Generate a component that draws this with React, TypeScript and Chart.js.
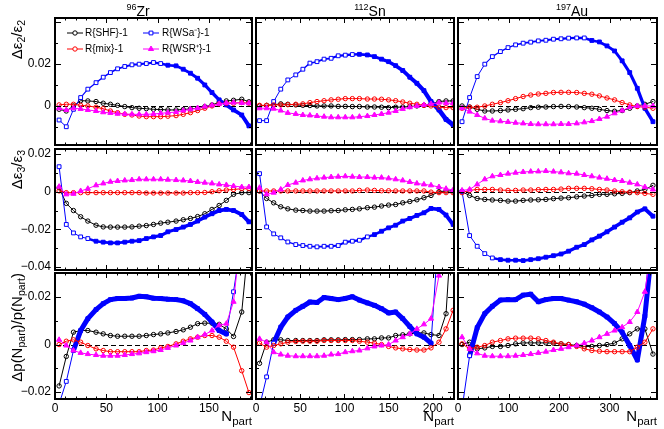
import { useEffect, useRef } from "react"
import { Chart, registerables } from "chart.js"

Chart.register(...registerables)

const FONT = '"Liberation Sans", Arial, Helvetica, sans-serif'

// N_part bin centres of each collision system
const nPartZr = [4, 11, 18, 25, 32, 40, 47, 54, 61, 68, 75, 82, 89, 96, 103, 110, 118, 125, 132, 139, 146, 153, 160, 167, 174, 182, 189]
const nPartSn = [4, 12, 20, 28, 36, 45, 53, 61, 69, 77, 85, 93, 101, 109, 117, 126, 134, 142, 150, 158, 166, 174, 182, 190, 198, 207, 215, 223]
const nPartAu = [8, 23, 38, 53, 68, 84, 99, 114, 129, 144, 159, 174, 189, 204, 219, 235, 250, 265, 280, 295, 310, 325, 340, 355, 370, 386]

// top row: Δε2/ε2
const e2ZrSHF = [-0.0016, -0.0024, 0.0, 0.0025, 0.0024, 0.0021, 0.0013, 0.0008, 0.0003, -0.0003, -0.0008, -0.0011, -0.0013, -0.0016, -0.0017, -0.0019, -0.0019, -0.0017, -0.0014, -0.0011, -0.0003, 0.0005, 0.0017, 0.0024, 0.0027, 0.0032, 0.002]
const e2ZrWSa = [-0.0067, -0.0099, -0.0016, 0.004, 0.008, 0.0111, 0.0137, 0.0159, 0.0177, 0.0188, 0.0196, 0.0199, 0.0202, 0.0207, 0.0202, 0.0194, 0.0191, 0.0175, 0.0156, 0.0132, 0.01, 0.0064, 0.0029, 0.0005, -0.0019, -0.0043, -0.0095]
const e2ZrMix = [0.0005, 0.0008, 0.0008, 0.0003, 0.0, -0.0006, -0.0013, -0.0024, -0.0032, -0.004, -0.0043, -0.0048, -0.0051, -0.0051, -0.0051, -0.0049, -0.0046, -0.004, -0.0032, -0.0022, -0.0011, 0.0, 0.001, 0.0013, 0.0013, 0.0016, 0.0013]
const e2ZrWSR = [-0.0011, -0.0019, -0.0011, -0.0014, -0.0019, -0.0024, -0.003, -0.0033, -0.0037, -0.0038, -0.004, -0.004, -0.004, -0.0038, -0.0035, -0.0032, -0.0029, -0.0022, -0.0016, -0.001, -0.0003, 0.0003, 0.001, 0.0014, 0.0016, 0.0014, 0.0013]

const e2SnSHF = [0.0, 0.0003, 0.0006, 0.001, 0.0008, 0.0005, 0.0003, 0.0002, 0.0, 0.0, 0.0, -0.0002, -0.0002, -0.0003, -0.0003, -0.0005, -0.0005, -0.0006, -0.0008, -0.0006, -0.0005, -0.0003, 0.0, 0.0003, 0.001, 0.0021, 0.0024, 0.0024]
const e2SnWSa = [-0.007, -0.007, 0.0021, 0.008, 0.0124, 0.0148, 0.0175, 0.0204, 0.0211, 0.0223, 0.0227, 0.0239, 0.0242, 0.0245, 0.0246, 0.0243, 0.0235, 0.0223, 0.0211, 0.0192, 0.0169, 0.0137, 0.0108, 0.0073, 0.0021, -0.0019, -0.0064, -0.009]
const e2SnMix = [0.0003, 0.0003, 0.0005, 0.0005, 0.0006, 0.0008, 0.001, 0.0016, 0.0021, 0.0025, 0.0029, 0.0032, 0.0035, 0.0035, 0.0035, 0.0033, 0.0033, 0.0032, 0.0029, 0.0025, 0.0019, 0.0013, 0.0008, 0.0003, 0.0, -0.0006, -0.0008, -0.0008]
const e2SnWSR = [-0.0011, -0.0011, -0.0013, -0.0022, -0.0033, -0.0038, -0.0043, -0.0045, -0.0048, -0.0051, -0.0054, -0.0054, -0.0054, -0.0054, -0.0051, -0.0048, -0.0043, -0.0038, -0.0032, -0.0024, -0.0014, -0.0006, 0.0, 0.0005, 0.001, 0.0016, 0.0013, 0.0013]

const e2AuSHF = [0.0, -0.0005, -0.0016, -0.0024, -0.0024, -0.0022, -0.0019, -0.0016, -0.0013, -0.0008, -0.0006, -0.0005, -0.0003, -0.0002, -0.0003, -0.0005, -0.0008, -0.0011, -0.0016, -0.0022, -0.0025, -0.0022, -0.0011, 0.0, 0.0008, 0.0021]
const e2AuWSa = [-0.0075, 0.004, 0.014, 0.0199, 0.0235, 0.0259, 0.0278, 0.0291, 0.0299, 0.0304, 0.031, 0.0313, 0.0318, 0.032, 0.0323, 0.0324, 0.0324, 0.0312, 0.0305, 0.0286, 0.0262, 0.0215, 0.0159, 0.0084, -0.0011, -0.0075]
const e2AuMix = [-0.0011, -0.0006, -0.0006, 0.0, 0.0008, 0.0016, 0.0025, 0.0035, 0.0045, 0.0052, 0.0057, 0.006, 0.0064, 0.0065, 0.0065, 0.0064, 0.006, 0.0056, 0.0048, 0.0038, 0.0029, 0.0016, 0.0005, -0.0003, -0.0006, -0.0011]
const e2AuWSR = [-0.0011, -0.0027, -0.0043, -0.0059, -0.007, -0.0073, -0.0076, -0.008, -0.0083, -0.0086, -0.0087, -0.0087, -0.0087, -0.0086, -0.0086, -0.0083, -0.0078, -0.0072, -0.0062, -0.0051, -0.0035, -0.0022, -0.0006, 0.0, 0.0, 0.0]

// middle row: Δε3/ε3
const e3ZrSHF = [0.0021, -0.0062, -0.01, -0.0133, -0.0156, -0.0178, -0.0187, -0.0188, -0.0188, -0.0188, -0.0187, -0.0183, -0.018, -0.0174, -0.0167, -0.0162, -0.0156, -0.0149, -0.0142, -0.0132, -0.0117, -0.0094, -0.0073, -0.0046, -0.0014, -0.0005, -0.0005]
const e3ZrWSa = [0.0133, -0.0174, -0.0219, -0.024, -0.0249, -0.0263, -0.0268, -0.0272, -0.0272, -0.0268, -0.0263, -0.026, -0.0249, -0.024, -0.0233, -0.0213, -0.0201, -0.0188, -0.0174, -0.0156, -0.0135, -0.0117, -0.01, -0.0094, -0.01, -0.0121, -0.016]
const e3ZrMix = [0.0004, -0.0005, -0.0005, -0.0005, -0.0005, -0.0005, -0.0005, -0.0005, -0.0005, -0.0005, -0.0005, -0.0005, -0.0007, -0.0007, -0.0007, -0.0007, -0.0007, -0.0007, -0.0005, -0.0005, -0.0004, 0.0, 0.0005, 0.0009, 0.0012, 0.0016, 0.0016]
const e3ZrWSR = [0.0027, -0.0014, -0.0011, 0.0004, 0.0016, 0.0034, 0.0044, 0.0053, 0.0057, 0.006, 0.0062, 0.0066, 0.0066, 0.0066, 0.0066, 0.0064, 0.0062, 0.006, 0.0057, 0.0052, 0.0048, 0.0044, 0.0039, 0.0036, 0.003, 0.0025, 0.0025]

const e3SnSHF = [0.0004, -0.0036, -0.0059, -0.008, -0.0091, -0.0098, -0.01, -0.0103, -0.0103, -0.0103, -0.0101, -0.01, -0.0096, -0.0094, -0.0091, -0.0085, -0.0082, -0.0076, -0.0071, -0.0068, -0.0059, -0.0052, -0.0043, -0.0032, -0.002, 0.0, 0.0004, 0.0004]
const e3SnWSa = [0.0096, -0.0187, -0.0224, -0.0245, -0.0267, -0.0281, -0.0286, -0.029, -0.0293, -0.029, -0.029, -0.0286, -0.0268, -0.0263, -0.0258, -0.024, -0.0228, -0.021, -0.0192, -0.0178, -0.0156, -0.0142, -0.0126, -0.0112, -0.0089, -0.0094, -0.0124, -0.0174]
const e3SnMix = [0.0004, 0.0004, 0.0004, 0.0004, 0.0004, 0.0004, 0.0004, 0.0004, 0.0004, 0.0004, 0.0004, 0.0004, 0.0004, 0.0004, 0.0007, 0.0009, 0.0007, 0.0005, 0.0005, 0.0004, 0.0004, 0.0004, 0.0004, 0.0004, -0.0002, -0.0005, -0.0005, -0.0005]
const e3SnWSR = [0.0021, -0.0014, -0.0005, 0.0012, 0.0036, 0.0048, 0.006, 0.0066, 0.0071, 0.0075, 0.0078, 0.008, 0.0082, 0.008, 0.0078, 0.0078, 0.0075, 0.0075, 0.0071, 0.0066, 0.006, 0.0052, 0.0044, 0.0039, 0.0034, 0.0025, 0.0016, 0.0009]

const e3AuSHF = [0.0, -0.002, -0.0036, -0.0041, -0.0044, -0.0046, -0.005, -0.005, -0.0046, -0.0044, -0.0043, -0.0041, -0.0037, -0.0034, -0.0032, -0.0027, -0.0023, -0.002, -0.0014, -0.0014, -0.0011, -0.0009, -0.0005, 0.0004, 0.0012, 0.0034]
const e3AuWSa = [0.0, -0.0233, -0.029, -0.0329, -0.0352, -0.0361, -0.0364, -0.0364, -0.0366, -0.0361, -0.0356, -0.0348, -0.034, -0.0331, -0.0316, -0.0295, -0.0281, -0.0256, -0.0236, -0.0213, -0.0188, -0.0162, -0.0139, -0.0108, -0.0091, -0.013]
const e3AuMix = [-0.0005, 0.0007, 0.0012, 0.0012, 0.0012, 0.0009, 0.0007, 0.0007, 0.0009, 0.0009, 0.0011, 0.0012, 0.0012, 0.0014, 0.0018, 0.0018, 0.0018, 0.0016, 0.0012, 0.0009, 0.0004, 0.0, -0.0002, -0.0005, -0.0009, -0.0014]
const e3AuWSR = [0.0007, 0.0012, 0.0039, 0.0066, 0.0082, 0.0089, 0.0096, 0.0101, 0.0105, 0.0107, 0.0108, 0.011, 0.0107, 0.0103, 0.0098, 0.0096, 0.0089, 0.0082, 0.0075, 0.0069, 0.0062, 0.0057, 0.0048, 0.0039, 0.0025, 0.0012]

// bottom row: Δp(Npart)/p(Npart)
const dpZrSHF = [-0.0174, -0.005, 0.0052, 0.0059, 0.0059, 0.0052, 0.0045, 0.0038, 0.0035, 0.0035, 0.0035, 0.0035, 0.0038, 0.0042, 0.0045, 0.0049, 0.0055, 0.0062, 0.0073, 0.0088, 0.009, 0.009, 0.0085, 0.0066, 0.0034, 0.0137, 0.045]
const dpZrWSa = [-0.025, -0.0155, -0.0025, 0.0059, 0.0109, 0.0147, 0.0172, 0.0189, 0.0194, 0.0194, 0.0196, 0.0203, 0.0201, 0.0195, 0.0194, 0.0191, 0.0189, 0.0184, 0.0172, 0.0151, 0.0127, 0.0095, 0.0059, 0.0045, 0.0222, 0.045, 0.07]
const dpZrMix = [0.0, 0.0014, 0.002, 0.001, -0.0004, -0.0018, -0.0025, -0.003, -0.003, -0.003, -0.003, -0.003, -0.0025, -0.0023, -0.0014, -0.0008, 0.0003, 0.0014, 0.0024, 0.0031, 0.0038, 0.0038, 0.0031, 0.0014, -0.0011, -0.011, -0.0202]
const dpZrWSR = [0.002, -0.0004, -0.0025, -0.0035, -0.004, -0.0044, -0.0047, -0.0047, -0.0047, -0.0044, -0.004, -0.0037, -0.0032, -0.0028, -0.0023, -0.0014, -0.0004, 0.0006, 0.0017, 0.0031, 0.0042, 0.0059, 0.0081, 0.0088, 0.018, 0.05, 0.08]

const dpSnSHF = [-0.0079, 0.001, 0.002, 0.002, 0.0017, 0.0017, 0.0017, 0.0017, 0.0017, 0.002, 0.002, 0.002, 0.0021, 0.0021, 0.0021, 0.0024, 0.0024, 0.0028, 0.0028, 0.0038, 0.0041, 0.0045, 0.0049, 0.0049, 0.0042, 0.0038, 0.013, 0.06]
const dpSnWSa = [-0.026, -0.0136, 0.0006, 0.0073, 0.0116, 0.0144, 0.0161, 0.0179, 0.0177, 0.0198, 0.0194, 0.0189, 0.0194, 0.0201, 0.0187, 0.0175, 0.0165, 0.0151, 0.0133, 0.0137, 0.0109, 0.0076, 0.0045, 0.0031, 0.0006, 0.05, 0.08, 0.1]
const dpSnMix = [0.0006, -0.0011, -0.0004, 0.0003, 0.001, 0.0013, 0.0014, 0.0014, 0.0014, 0.0017, 0.0017, 0.0017, 0.0017, 0.0017, 0.0014, 0.001, 0.0006, 0.0, -0.0008, -0.0014, -0.0018, -0.0021, -0.0023, -0.0023, -0.0014, 0.001, 0.0066, 0.0144]
const dpSnWSR = [0.0024, 0.001, -0.0032, -0.0042, -0.0047, -0.0049, -0.0049, -0.0049, -0.0049, -0.0047, -0.0042, -0.004, -0.0032, -0.0028, -0.0025, -0.0016, -0.0008, -0.0004, 0.0, 0.0017, 0.0031, 0.0045, 0.0066, 0.0085, 0.0109, 0.029, 0.06, 0.1]

const dpAuSHF = [0.0, 0.001, -0.0018, -0.0014, -0.0008, -0.0008, -0.0004, 0.0003, 0.0007, 0.0007, 0.0007, 0.0007, 0.0006, 0.0003, 0.0, -0.0004, -0.0008, -0.0008, -0.0004, 0.0, 0.0006, 0.0024, 0.0045, 0.0066, 0.0066, -0.004]
const dpAuWSa = [-0.027, -0.0047, 0.0071, 0.013, 0.0161, 0.0187, 0.0189, 0.0189, 0.0208, 0.0212, 0.018, 0.0189, 0.0194, 0.0194, 0.0187, 0.018, 0.017, 0.0155, 0.0137, 0.0116, 0.0088, 0.0052, -0.0004, -0.0065, 0.012, 0.045]
const dpAuMix = [0.0003, -0.0018, -0.0011, -0.0004, 0.001, 0.0017, 0.0024, 0.0027, 0.0027, 0.0027, 0.0024, 0.0017, 0.001, 0.0003, 0.0, -0.0008, -0.0018, -0.0025, -0.0028, -0.003, -0.003, -0.003, -0.003, -0.0011, 0.001, 0.0066]
const dpAuWSR = [0.0031, -0.0018, -0.0037, -0.0047, -0.0049, -0.0049, -0.0049, -0.0047, -0.0044, -0.004, -0.0035, -0.003, -0.0023, -0.0018, -0.0011, -0.0004, 0.0006, 0.0017, 0.0031, 0.0045, 0.0059, 0.0073, 0.0095, 0.0137, 0.0222, 0.045]

const seriesNames = ["R{SHF}-1", "R{WSa\u207B}-1", "R{mix}-1", "R{WSR\u207A}-1"]
const nPart = [nPartZr, nPartSn, nPartAu]
const panelData = [
  [[e2ZrSHF, e2ZrWSa, e2ZrMix, e2ZrWSR], [e2SnSHF, e2SnWSa, e2SnMix, e2SnWSR], [e2AuSHF, e2AuWSa, e2AuMix, e2AuWSR]],
  [[e3ZrSHF, e3ZrWSa, e3ZrMix, e3ZrWSR], [e3SnSHF, e3SnWSa, e3SnMix, e3SnWSR], [e3AuSHF, e3AuWSa, e3AuMix, e3AuWSR]],
  [[dpZrSHF, dpZrWSa, dpZrMix, dpZrWSR], [dpSnSHF, dpSnWSa, dpSnMix, dpSnWSR], [dpAuSHF, dpAuWSa, dpAuMix, dpAuWSR]],
]

// axes
const xMax = [192, 224, 394]
const xLabels = [[0, 50, 100, 150], [0, 50, 100, 150, 200], [0, 100, 200, 300]]
const xMinor = [10, 10, 20]
const yMin = [-0.0186, -0.0416, -0.0229]
const yMax = [0.0419, 0.0227, 0.0301]
const yLabels = [[0, 0.02], [-0.04, -0.02, 0, 0.02], [-0.02, 0, 0.02]]
const yMinor = 0.01

// layout of the 3x3 grid (page pixels)
const PAD = 8
const colL = [55, 256, 458]
const colR = [252, 454, 657]
const rowT = [18, 149, 273]
const rowB = [145, 270, 399]

const colors = ["#000000", "#0000ff", "#ff0000", "#ff00ff"]
const markers = ["circle", "rect", "circle", "triangle"]
const drawOrder = [3, 2, 1, 0] // first is drawn on top
// width ramp of the blue band: [w0, w1, first segment, end segment]
const blueBand = [
  [[1, 4, 2, 26], [1, 5, 4, 27], [1, 3.5, 2, 25]],
  [[2.5, 4, 4, 26], [1, 4, 2, 27], [2.5, 4, 4, 25]],
  [[5, 5, 2, 23], [5, 5, 2, 24], [5, 5, 1, 25]],
]

const fmtTick = (v: number) => (v === 0 ? "0" : (v < 0 ? "\u2212" : "") + Math.abs(v).toString())

function drawMarker(ctx: CanvasRenderingContext2D, k: number, x: number, y: number) {
  ctx.beginPath()
  if (markers[k] === "circle") ctx.arc(x, y, 2.2, 0, Math.PI * 2)
  else if (markers[k] === "rect") ctx.rect(x - 1.9, y - 1.9, 3.8, 3.8)
  else {
    ctx.moveTo(x, y - 3)
    ctx.lineTo(x + 2.6, y + 1.5)
    ctx.lineTo(x - 2.6, y + 1.5)
    ctx.closePath()
  }
  ctx.fillStyle = k === 3 ? colors[3] : "#ffffff"
  ctx.fill()
  ctx.strokeStyle = colors[k]
  ctx.lineWidth = 1
  ctx.stroke()
}

function Panel({ r, c }: { r: number; c: number }) {
  const canvasRef = useRef<HTMLCanvasElement>(null)
  const left = c === 0 ? 0 : colL[c] - PAD
  const top = rowT[r] - PAD
  const width = colR[c] + PAD - left
  const height = (r === 2 ? 429 : rowB[r] + PAD) - top

  useEffect(() => {
    if (!canvasRef.current) return
    const xs = nPart[c]
    const series = panelData[r][c]
    const [w0, w1, s0, s1] = blueBand[r][c]
    const segW = (i: number) => (i < s0 || i >= s1 ? 1 : w0 + ((w1 - w0) * (i - s0)) / Math.max(1, s1 - s0))

    const datasets: any[] = drawOrder.map((k) => ({
      label: seriesNames[k],
      data: xs.map((x, i) => ({ x, y: series[k][i] })),
      borderColor: colors[k],
      borderWidth: 1,
      borderJoinStyle: "round",
      borderCapStyle: "round",
      pointStyle: markers[k],
      pointRadius: k === 1 ? 2.7 : k === 3 ? 3 : 2.2,
      pointBorderWidth: 1,
      pointBorderColor: colors[k],
      pointBackgroundColor:
        k === 1 ? xs.map((_, i) => (i > 0 && segW(i - 1) >= 2.5 ? colors[1] : "#ffffff")) : k === 3 ? colors[3] : "rgba(0,0,0,0)",
      segment: k === 1 ? { borderWidth: (ctx: any) => segW(ctx.p0DataIndex) } : undefined,
      tension: 0,
    }))

    const framePlugin = {
      id: "rootFrame",
      beforeDatasetsDraw(chart: any) {
        const { ctx, chartArea: a } = chart
        const y0 = Math.round(chart.scales.y.getPixelForValue(0)) + 0.5
        ctx.save()
        ctx.strokeStyle = "#000"
        ctx.lineWidth = 1
        ctx.setLineDash([5, 3])
        ctx.beginPath()
        ctx.moveTo(a.left, y0)
        ctx.lineTo(a.right, y0)
        ctx.stroke()
        ctx.restore()
      },
      afterDraw(chart: any) {
        const { ctx, chartArea: a, scales } = chart
        ctx.save()
        ctx.strokeStyle = "#000"
        ctx.lineWidth = 1
        ctx.beginPath()
        for (let k = Math.ceil(yMin[r] / yMinor - 1e-6); k * yMinor <= yMax[r] + 1e-9; k++) {
          const py = Math.round(scales.y.getPixelForValue(k * yMinor)) + 0.5
          const len = k % 2 === 0 ? 6 : 3
          ctx.moveTo(a.left, py)
          ctx.lineTo(a.left + len, py)
          ctx.moveTo(a.right, py)
          ctx.lineTo(a.right - len, py)
        }
        for (let k = 0; k * xMinor[c] <= xMax[c]; k++) {
          const px = Math.round(scales.x.getPixelForValue(k * xMinor[c])) + 0.5
          const len = k % 5 === 0 ? 5 : 2.5
          ctx.moveTo(px, a.bottom)
          ctx.lineTo(px, a.bottom - len)
          ctx.moveTo(px, a.top)
          ctx.lineTo(px, a.top + len)
        }
        ctx.stroke()
        ctx.lineWidth = 2
        ctx.strokeRect(a.left, a.top, a.right - a.left, a.bottom - a.top)

        if (r === 0 && c === 0) {
          ctx.font = `10px ${FONT}`
          ctx.textBaseline = "middle"
          ctx.fillStyle = "#000"
          const entries = [
            [0, 75, 33, 85],
            [1, 151, 33, 162],
            [2, 75, 49, 85],
            [3, 151, 49, 162],
          ]
          entries.forEach(([k, mx, my, tx]) => {
            const x = mx - left
            const y = my - top
            ctx.strokeStyle = colors[k]
            ctx.lineWidth = 1
            ctx.beginPath()
            ctx.moveTo(x - 8, y)
            ctx.lineTo(x + 8, y)
            ctx.stroke()
            drawMarker(ctx, k, x, y)
            ctx.fillStyle = "#000"
            ctx.fillText(seriesNames[k], tx - left, y + 0.5)
          })
        }
        ctx.restore()
      },
    }

    const xScale: any = {
      type: "linear",
      min: 0,
      max: xMax[c],
      display: r === 2,
      position: "bottom",
      grid: { display: false, drawTicks: false },
      border: { display: false },
    }
    if (r === 2) {
      xScale.afterBuildTicks = (s: any) => {
        s.ticks = xLabels[c].map((v) => ({ value: v }))
      }
      xScale.afterFit = (s: any) => {
        s.height = 429 - rowB[2]
        s.paddingLeft = 0
        s.paddingRight = 0
      }
      xScale.ticks = { color: "#000", font: { family: FONT, size: 12 }, padding: 2, maxRotation: 0, autoSkip: false }
    }

    const yScale: any = {
      type: "linear",
      min: yMin[r],
      max: yMax[r],
      display: c === 0,
      position: "left",
      grid: { display: false, drawTicks: false },
      border: { display: false },
    }
    if (c === 0) {
      yScale.afterBuildTicks = (s: any) => {
        s.ticks = yLabels[r].map((v) => ({ value: v }))
      }
      yScale.afterFit = (s: any) => {
        s.width = colL[0]
        s.paddingTop = 0
        s.paddingBottom = 0
      }
      yScale.ticks = {
        color: "#000",
        font: { family: FONT, size: 12 },
        padding: 4,
        autoSkip: false,
        callback: (v: number) => fmtTick(v),
      }
    }

    const chart = new Chart(canvasRef.current, {
      type: "line",
      data: { datasets },
      options: {
        animation: false,
        responsive: false,
        events: [],
        layout: {
          padding: { left: c === 0 ? 0 : PAD, right: PAD, top: PAD, bottom: r === 2 ? 0 : PAD },
        },
        plugins: { legend: { display: false }, tooltip: { enabled: false } },
        scales: { x: xScale, y: yScale },
      },
      plugins: [framePlugin],
    })

    return () => chart.destroy()
  }, [r, c, left, top])

  return (
    <canvas
      ref={canvasRef}
      width={width}
      height={height}
      style={{ position: "absolute", left, top, width, height }}
    />
  )
}

const systems = [
  { mass: "96", name: "Zr", center: 138 },
  { mass: "112", name: "Sn", center: 370 },
  { mass: "197", name: "Au", center: 572 },
]

const subStyle = { fontSize: "70%", verticalAlign: "-0.3em", lineHeight: 0 } as const

function YTitle({ top, children }: { top: number; children: any }) {
  return (
    <div
      style={{
        position: "absolute",
        right: 664 - 8,
        top,
        transformOrigin: "top right",
        transform: "rotate(-90deg)",
        whiteSpace: "nowrap",
        fontSize: 15,
        lineHeight: "18px",
      }}
    >
      {children}
    </div>
  )
}

export default function App() {
  const cells: [number, number][] = []
  for (let r = 0; r < 3; r++) for (let c = 0; c < 3; c++) cells.push([r, c])

  return (
    <div
      style={{
        position: "absolute",
        left: 0,
        top: 0,
        width: 664,
        height: 429,
        background: "#ffffff",
        fontFamily: FONT,
        color: "#000",
        overflow: "hidden",
      }}
    >
      {cells.map(([r, c]) => (
        <Panel key={`${r}-${c}`} r={r} c={c} />
      ))}

      {systems.map((s) => (
        <div
          key={s.name}
          style={{ position: "absolute", left: s.center, top: 3, transform: "translateX(-50%)", fontSize: 14, lineHeight: "16px", whiteSpace: "nowrap" }}
        >
          <span style={{ fontSize: 9, position: "relative", top: -6 }}>{s.mass}</span>
          {s.name}
        </div>
      ))}

      <YTitle top={20}>
        Δε<sub style={subStyle}>2</sub>/ε<sub style={subStyle}>2</sub>
      </YTitle>
      <YTitle top={150}>
        Δε<sub style={subStyle}>3</sub>/ε<sub style={subStyle}>3</sub>
      </YTitle>
      <YTitle top={273}>
        Δp(N<sub style={subStyle}>part</sub>)/p(N<sub style={subStyle}>part</sub>)
      </YTitle>

      {colR.map((x) => (
        <div key={x} style={{ position: "absolute", right: 664 - x, top: 407, fontSize: 15, lineHeight: "17px", whiteSpace: "nowrap" }}>
          N<span style={{ fontSize: 11.5, position: "relative", top: 4 }}>part</span>
        </div>
      ))}
    </div>
  )
}
